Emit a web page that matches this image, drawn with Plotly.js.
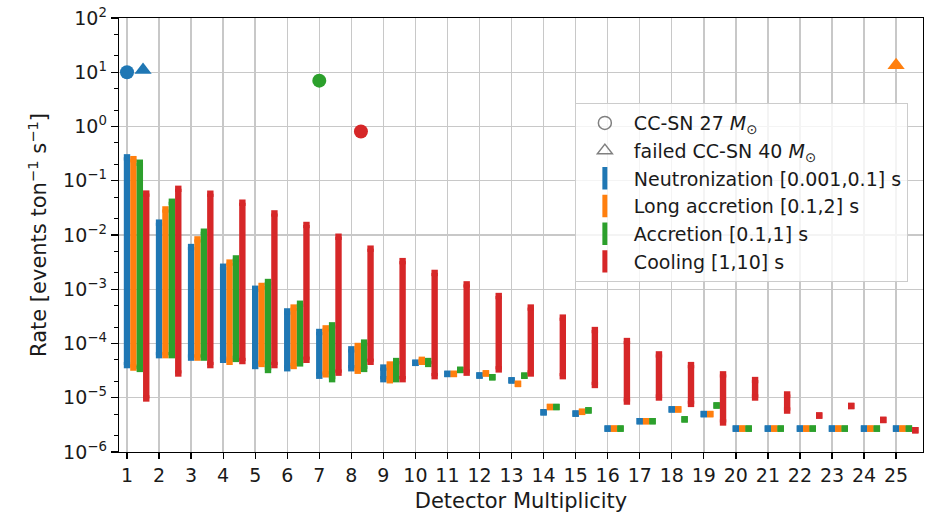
<!DOCTYPE html>
<html>
<head>
<meta charset="utf-8">
<script src="https://cdn.plot.ly/plotly-3.0.1.min.js"></script>
<style>html,body{margin:0;padding:0;background:#fff;}#chart{width:934px;height:515px;}</style>
</head>
<body>
<div id="chart"></div>
<script>
// ---- data ----
const multiplicity = [1,2,3,4,5,6,7,8,9,10,11,12,13,14,15,16,17,18,19,20,21,22,23,24,25];

const neutronizationLow  = [4.0e-5,6.1e-5,5.5e-5,5.0e-5,3.85e-5,3.5e-5,2.55e-5,3.5e-5,2.2e-5,4.4e-5,2.75e-5,2.57e-5,2.09e-5,5.4e-6,5.1e-6,2.7e-6,3.7e-6,6.1e-6,5.0e-6,2.7e-6,2.7e-6,2.7e-6,2.7e-6,2.7e-6,2.7e-6];
const neutronizationHigh = [0.27,0.0169,6.0e-3,2.6e-3,1.02e-3,3.9e-4,1.63e-4,7.8e-5,3.6e-5,4.4e-5,2.75e-5,2.57e-5,2.09e-5,5.4e-6,5.1e-6,2.7e-6,3.7e-6,6.1e-6,5.0e-6,2.7e-6,2.7e-6,2.7e-6,2.7e-6,2.7e-6,2.7e-6];

const longAccretionLow  = [3.6e-5,6.1e-5,5.5e-5,4.6e-5,4.2e-5,3.85e-5,2.7e-5,3.15e-5,2.1e-5,4.6e-5,2.75e-5,2.81e-5,1.8e-5,6.75e-6,5.5e-6,2.7e-6,3.7e-6,6.1e-6,5.0e-6,2.7e-6,2.7e-6,2.7e-6,2.7e-6,2.7e-6,2.7e-6];
const longAccretionHigh = [0.25,0.0296,8.3e-3,3.1e-3,1.15e-3,4.6e-4,1.9e-4,9.0e-5,4.1e-5,5.0e-5,2.75e-5,2.81e-5,1.8e-5,6.75e-6,5.5e-6,2.7e-6,3.7e-6,6.1e-6,5.0e-6,2.7e-6,2.7e-6,2.7e-6,2.7e-6,2.7e-6,2.7e-6];

const accretionLow  = [3.4e-5,6.1e-5,5.5e-5,5.2e-5,3.25e-5,4.3e-5,2.2e-5,3.4e-5,2.2e-5,4.2e-5,3.26e-5,2.39e-5,2.55e-5,6.75e-6,5.85e-6,2.7e-6,3.7e-6,4.0e-6,7.2e-6,2.7e-6,2.7e-6,2.7e-6,2.7e-6,2.7e-6,2.7e-6];
const accretionHigh = [0.215,0.041,0.0115,3.7e-3,1.36e-3,5.4e-4,2.16e-4,1.04e-4,4.75e-5,4.75e-5,3.26e-5,2.39e-5,2.55e-5,6.75e-6,5.85e-6,2.7e-6,3.7e-6,4.0e-6,7.2e-6,2.7e-6,2.7e-6,2.7e-6,2.7e-6,2.7e-6,2.7e-6];

const coolingLow  = [9.7e-6,2.8e-5,4.0e-5,4.75e-5,4.0e-5,5.0e-5,2.9e-5,4.6e-5,2.2e-5,2.5e-5,2.9e-5,3.33e-5,2.8e-5,2.5e-5,1.72e-5,8.5e-6,1.01e-5,7.7e-6,3.5e-6,1.01e-5,5.8e-6,4.7e-6,7.05e-6,3.9e-6,2.52e-6];
const coolingHigh = [0.058,0.071,0.0577,0.0394,0.025,0.0153,9.3e-3,5.6e-3,3.3e-3,2.0e-3,1.23e-3,7.5e-4,4.6e-4,3.0e-4,1.77e-4,1.11e-4,6.3e-5,4.0e-5,2.7e-5,2.12e-5,1.15e-5,4.7e-6,7.05e-6,3.9e-6,2.52e-6];

// single-number totals (markers)
const cc27X = [1, 7, 8.3];
const cc27Y = [10, 7, 0.81];
const failed40X = [1.5, 25];
const failed40Y = [11, 13.5];

const yTickVals = [1e-6,1e-5,1e-4,1e-3,1e-2,1e-1,1e0,1e1,1e2];
const yTickText = ['10<sup>−6</sup>','10<sup>−5</sup>','10<sup>−4</sup>','10<sup>−3</sup>','10<sup>−2</sup>','10<sup>−1</sup>','10<sup>0</sup>','10<sup>1</sup>','10<sup>2</sup>'];

// ---- styling ----
const C = {blue:'#1f77b4', orange:'#ff7f0e', green:'#2ca02c', red:'#d62728'};
const barW = 6.4;

function rangeTrace(lo, hi, offset, color) {
  const xs = [], ys = [];
  multiplicity.forEach((m, i) => {
    xs.push(m + offset, m + offset, null);
    ys.push(lo[i], hi[i], null);
  });
  return {
    type: 'scatter', mode: 'lines+markers', x: xs, y: ys,
    line: {color: color, width: barW},
    marker: {symbol: 'square', size: barW, color: color, line: {width: 0}},
    showlegend: false, hoverinfo: 'skip', cliponaxis: false
  };
}

function legendTrace(name, symbol, color, size, lw) {
  return {
    type: 'scatter', mode: 'markers', x: [null], y: [null], name: name,
    marker: {symbol: symbol, size: size, color: color, line: {color: color, width: lw}},
    showlegend: true
  };
}

const traces = [
  rangeTrace(neutronizationLow, neutronizationHigh, 0.0, C.blue),
  rangeTrace(longAccretionLow, longAccretionHigh, 0.2, C.orange),
  rangeTrace(accretionLow, accretionHigh, 0.4, C.green),
  rangeTrace(coolingLow, coolingHigh, 0.6, C.red),
  {type:'scatter', mode:'markers', x: cc27X, y: cc27Y, showlegend:false,
   marker:{symbol:'circle', size:14, color:[C.blue, C.green, C.red], line:{width:0}}, cliponaxis:false},
  {type:'scatter', mode:'markers', x: failed40X, y: failed40Y, showlegend:false,
   marker:{symbol:'triangle-up', size:15, color:[C.blue, C.orange], line:{width:0}}, cliponaxis:false},
  legendTrace('CC-SN 27 <i>M</i><sub>⊙</sub>', 'circle-open', '#808080', 13, 1.5),
  legendTrace('failed CC-SN 40 <i>M</i><sub>⊙</sub>', 'triangle-up-open', '#808080', 13, 1.5),
  legendTrace('Neutronization [0.001,0.1] s', 'line-ns', C.blue, 16, 5),
  legendTrace('Long accretion [0.1,2] s', 'line-ns', C.orange, 16, 5),
  legendTrace('Accretion [0.1,1] s', 'line-ns', C.green, 16, 5),
  legendTrace('Cooling [1,10] s', 'line-ns', C.red, 16, 5)
];

const font = {family: 'DejaVu Sans, sans-serif', color: '#1a1a1a'};

const layout = {
  width: 934, height: 515,
  margin: {l: 119, r: 11, t: 18, b: 63},
  paper_bgcolor: '#fff', plot_bgcolor: '#fff',
  font: Object.assign({size: 19}, font),
  showlegend: true,
  xaxis: {
    range: [0.75, 25.84], tickmode: 'array', tickvals: multiplicity,
    ticks: 'outside', ticklen: 6, tickwidth: 1.3, tickcolor: '#000',
    showgrid: true, gridcolor: '#c8c8c8', gridwidth: 1.4, zeroline: false,
    showline: true, linecolor: '#000', linewidth: 1.3, mirror: true,
    tickfont: Object.assign({size: 19}, font),
    title: {text: 'Detector Multiplicity', font: Object.assign({size: 21}, font), standoff: 8}
  },
  yaxis: {
    type: 'log', range: [-6, 2], tickmode: 'array', tickvals: yTickVals, ticktext: yTickText,
    ticks: 'outside', ticklen: 7, tickwidth: 1.3, tickcolor: '#000',
    minor: {ticks: 'outside', ticklen: 3.5, tickwidth: 1, tickcolor: '#000', showgrid: false},
    showgrid: true, gridcolor: '#c8c8c8', gridwidth: 1.4, zeroline: false,
    showline: true, linecolor: '#000', linewidth: 1.3, mirror: true,
    tickfont: Object.assign({size: 19}, font),
    title: {text: 'Rate [events ton<sup>−1</sup> s<sup>−1</sup>]', font: Object.assign({size: 21}, font), standoff: 10}
  },
  legend: {
    x: 0.567, y: 0.804, xanchor: 'left', yanchor: 'top',
    bgcolor: 'rgba(255,255,255,0.8)', bordercolor: '#cccccc', borderwidth: 1,
    font: Object.assign({size: 19}, font), itemwidth: 48, tracegroupgap: 0
  }
};

Plotly.newPlot('chart', traces, layout, {displayModeBar: false, staticPlot: true});
</script>
</body>
</html>
